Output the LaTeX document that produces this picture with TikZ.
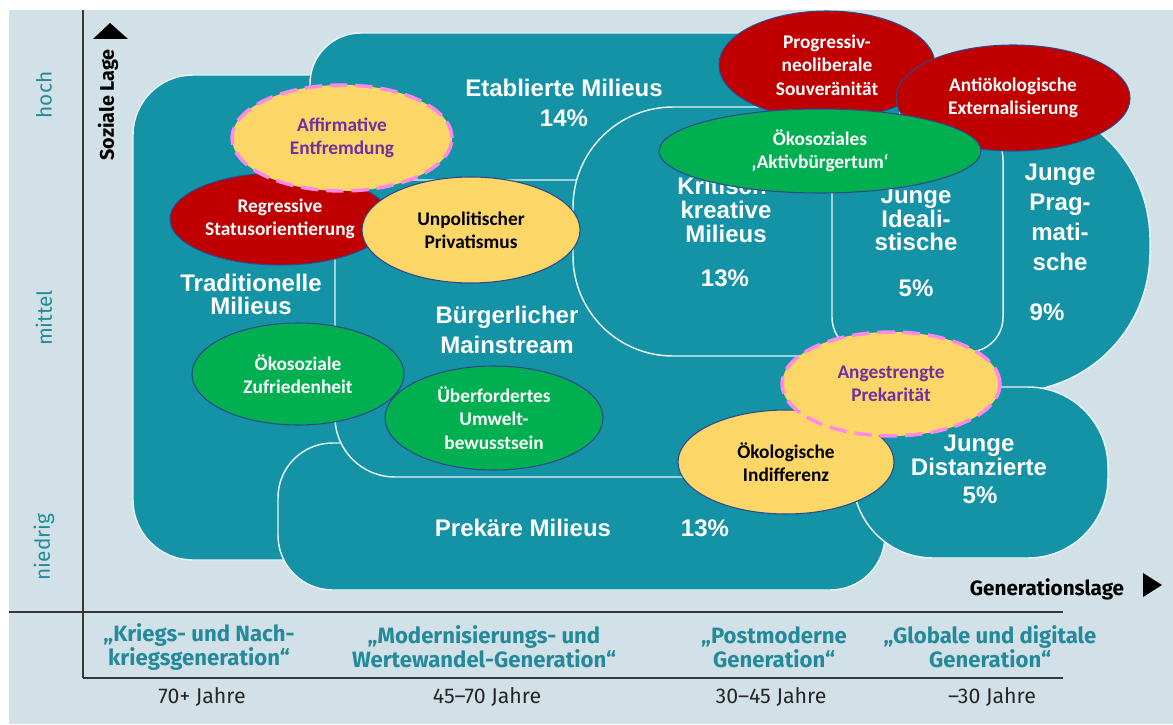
\documentclass[tikz,border=0pt]{standalone}
\usepackage{fontspec}
\setmainfont{Fira Sans}
\newfontfamily\calibrifont{Carlito}
\newfontfamily\arialfont{Liberation Sans}
\usepackage{tikz}
\usetikzlibrary{shapes.geometric}
\definecolor{bg}{RGB}{210,225,232}
\definecolor{milieu}{RGB}{20,146,166}
\definecolor{rim}{RGB}{232,244,247}
\definecolor{R}{RGB}{192,0,0}
\definecolor{G}{RGB}{0,176,80}
\definecolor{Y}{RGB}{253,214,104}
\definecolor{rand}{RGB}{47,72,140}
\definecolor{pink}{RGB}{255,136,232}
\definecolor{lila}{RGB}{112,48,160}
\definecolor{axisteal}{RGB}{36,138,154}
\definecolor{axisgrey}{RGB}{55,55,55}
\tikzstyle{base}=[x=0.75pt, y=-0.75pt]
\tikzstyle{milieubox}=[fill=milieu, draw=rim, line width=1.1pt]
\tikzset{milieutext/.style={text=white, inner sep=0pt, align=center,
    font=\arialfont\bfseries\fontsize{18}{#1}\selectfont},
  milieutext/.default=18}
\tikzstyle{haltung}=[ellipse, draw=rand, line width=0.8pt, inner sep=0pt, align=center,
    font=\calibrifont\bfseries\fontsize{14.5}{17.5}\selectfont]
\tikzstyle{rot}=[haltung, fill=R, text=white]
\tikzstyle{gruen}=[haltung, fill=G, text=white]
\tikzstyle{gelb}=[haltung, fill=Y, text=black]
\tikzstyle{gelbpink}=[haltung, fill=Y, text=lila, draw=pink, line width=2.6pt, dash pattern=on 13pt off 6pt]
\tikzstyle{axisline}=[draw=axisgrey, line width=1.1pt]
\tikzstyle{generation}=[text=axisteal, align=center, inner sep=0pt, font=\bfseries\fontsize{16.6}{18}\selectfont]
\tikzstyle{jahre}=[text=black!85, inner sep=0pt, font=\fontsize{16}{18}\selectfont]
\tikzstyle{lage}=[text=axisteal, rotate=90, inner sep=0pt, font=\fontsize{15.6}{18}\selectfont]

\begin{document}
\begin{tikzpicture}[base]
    \fill[white] (0,0) rectangle (1173,724);
    \fill[bg] (9,10) rectangle (1173,724);
    \useasboundingbox (0,0) rectangle (1173,724);

    \draw[milieubox, rounded corners=45pt] (133,75) rectangle (420,560);
    \draw[milieubox, rounded corners=38pt] (310,33) rectangle (900,250);
    \draw[milieubox, rounded corners=41pt] (278,443) rectangle (885,590);
    \draw[milieubox, rounded corners=45pt] (335,180) rectangle (800,477);
    \draw[milieubox, rounded corners=105pt] (860,100) rectangle (1150,392);
    \draw[milieubox] (673,107) -- (810,107) arc[start angle=90, end angle=0, radius=22.5pt]
        -- (840,326) arc[start angle=0, end angle=-90, radius=22.5pt]
        -- (673,356) arc[start angle=270, end angle=180, radius=75pt]
        -- (573,207) arc[start angle=180, end angle=90, radius=75pt] -- cycle;
    \draw[milieubox, rounded corners=26pt] (832,125) rectangle (1003,352);
    \draw[milieubox, rounded corners=60pt] (853,387) rectangle (1108,558);

    \node[milieutext=23] (etabliert) at (564,103) {Etablierte Milieus\\14\%};
    \node[milieutext=17.25] (traditionell) at (251,294) {Traditionelle\\Milieus};
    \node[milieutext=22.5] (buergerlich) at (507,330) {Bürgerlicher\\Mainstream};
    \node[milieutext=18] (kritisch) at (726,210) {Kritisch-\\kreative\\Milieus};
    \node[milieutext] (kritischpz) at (725,278) {13\%};
    \node[milieutext=17.5] (idealist) at (916,219) {Junge\\Ideali-\\stische};
    \node[milieutext] (idealistpz) at (916,288) {5\%};
    \node[milieutext=22.5] (pragmat) at (1060,217) {Junge\\Prag-\\mati-\\sche};
    \node[milieutext] (pragmatpz) at (1047,312) {9\%};
    \node[milieutext=14.6] (distanz) at (979,455) {Junge\\Distanzierte};
    \node[milieutext] (distanzpz) at (980,495) {5\%};
    \node[milieutext] (prekaer) at (523,528) {Prekäre Milieus};
    \node[milieutext] (prekaerpz) at (705,528) {13\%};

    \node[rot, minimum width=165pt, minimum height=69pt] (regressiv) at (280,219) {Regressive\\Statusorientierung};
    \node[gelb, minimum width=163.5pt, minimum height=79.5pt] (unpolitisch) at (471,230) {Unpolitischer\\Privatismus};
    \node[gelbpink, minimum width=165pt, minimum height=79.5pt] (affirmativ) at (342,138) {Affirmative\\Entfremdung};
    \node[rot, minimum width=162pt, minimum height=81pt] (progressiv) at (827,65) {Progressiv-\\neoliberale\\Souveränität};
    \node[rot, minimum width=175.5pt, minimum height=79.5pt] (antioeko) at (1013,98) {Antiökologische\\Externalisierung};
    \node[gruen, minimum width=241.5pt, minimum height=63pt] (aktiv) at (820,151) {Ökosoziales\\‚Aktivbürgertum‘};
    \node[gruen, minimum width=159pt, minimum height=76.5pt] (zufrieden) at (298,374) {Ökosoziale\\Zufriedenheit};
    \node[gruen, minimum width=163.5pt, minimum height=78pt] (ueberfordert) at (494,418) {Überfordertes\\Umwelt-\\bewusstsein};
    \node[gelb, minimum width=162pt, minimum height=78pt] (indifferenz) at (786,462) {Ökologische\\Indifferenz};
    \node[gelbpink, minimum width=163.5pt, minimum height=78pt] (prekaritaet) at (891,384) {Angestrengte\\Prekarität};

    \draw[axisline] (83,10) -- (83,678);
    \draw[axisline] (9,612) -- (1063,612);
    \draw[axisline] (83,678) -- (1063,678);
    \fill[black] (110,23) -- (128,39) -- (93,39) -- cycle;
    \fill[black] (1162,585) -- (1143,597) -- (1143,573) -- cycle;
    \node[rotate=90, inner sep=0pt, font=\bfseries\fontsize{14.8}{18}\selectfont] (soziallage) at (108,105) {Soziale Lage};
    \node[inner sep=0pt, font=\bfseries\fontsize{15.5}{18}\selectfont] (generationslage) at (1047,589) {Generationslage};

    \node[lage] (hoch) at (44,95) {hoch};
    \node[lage] (mittel) at (44,318) {mittel};
    \node[lage] (niedrig) at (44,547) {niedrig};

    \node[generation] (krieg) at (199,647) {„Kriegs- und Nach-\\kriegsgeneration“};
    \node[generation] (wertewandel) at (484,647) {„Modernisierungs- und\\Wertewandel-Generation“};
    \node[generation] (postmodern) at (774,647) {„Postmoderne\\Generation“};
    \node[generation] (digital) at (990,647) {„Globale und digitale\\Generation“};
    \node[jahre] (j70) at (202,697) {70+ Jahre};
    \node[jahre] (j45) at (487,697) {45–70 Jahre};
    \node[jahre] (j30) at (771,697) {30–45 Jahre};
    \node[jahre] (j0) at (992,697) {–30 Jahre};
\end{tikzpicture}
\end{document}
